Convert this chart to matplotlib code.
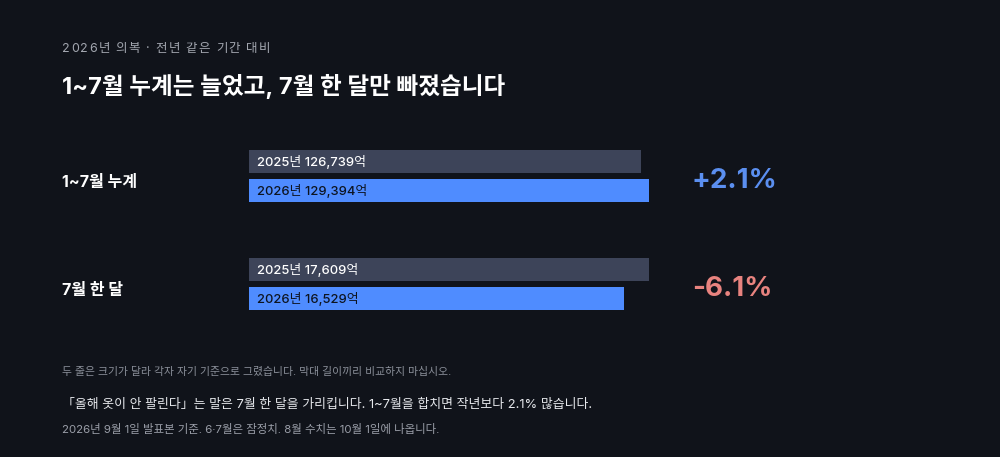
import matplotlib
matplotlib.use("Agg")
import matplotlib.pyplot as plt

plt.rcParams['font.family'] = ['Inter', 'Noto Sans CJK KR', 'DejaVu Sans']

# data
rows = ["1~7월 누계", "7월 한 달"]
years = ["2025년", "2026년"]
values = [[126739, 129394], [17609, 16529]]
changes = ["+2.1%", "-6.1%"]

subtitle = "2026년 의복 · 전년 같은 기간 대비"
title = "1~7월 누계는 늘었고, 7월 한 달만 빠졌습니다"
note1 = "두 줄은 크기가 달라 각자 자기 기준으로 그렸습니다. 막대 길이끼리 비교하지 마십시오."
note2 = "「올해 옷이 안 팔린다」는 말은 7월 한 달을 가리킵니다. 1~7월을 합치면 작년보다 2.1% 많습니다."
note3 = "2026년 9월 1일 발표본 기준. 6·7월은 잠정치. 8월 수치는 10월 1일에 나옵니다."

BG = "#10131a"
GRAY_BAR = "#3d4459"
BLUE_BAR = "#4f8cff"
UP = "#5b8ff0"
DOWN = "#e8837f"

W, H = 1000, 457
fig = plt.figure(figsize=(W / 100, H / 100), dpi=100, facecolor=BG)

def fy(py):
    # pixel from top -> figure fraction
    return 1 - py / H

# subtitle with letter spacing, char by char
renderer = fig.canvas.get_renderer()
x = 62
for ch in subtitle:
    t = fig.text(x / W, fy(49), ch, color="#a3a7b0", fontsize=9, va="center", ha="left")
    w = t.get_window_extent(renderer).width
    if ch == " ":
        w = 3.0
    x += w + 1.4

fig.text(62 / W, fy(86), title, color="white", fontsize=17, fontweight="bold",
         va="center", ha="left")

# bar rows, each on its own scale
row_tops = [150, 258]
bar_h = 23
gap = 6
for i, row in enumerate(rows):
    top = row_tops[i]
    total = 2 * bar_h + gap
    ax = fig.add_axes([249 / W, fy(top + total), 400 / W, total / H])
    ax.set_facecolor(BG)
    ax.set_xlim(0, max(values[i]))
    ax.set_ylim(total, 0)
    ax.axis("off")
    ys = [bar_h / 2, bar_h + gap + bar_h / 2]
    cols = [GRAY_BAR, BLUE_BAR]
    tcols = ["white", "#0d1420"]
    for j in range(2):
        ax.barh(ys[j], values[i][j], height=bar_h, color=cols[j], left=0)
        ax.text(8 / 400 * max(values[i]), ys[j] + 0.5,
                f"{years[j]} {values[i][j]:,}억", color=tcols[j],
                fontsize=9.3, fontweight="medium", va="center", ha="left")
    mid = top + total / 2
    fig.text(62 / W, fy(mid + 6), row, color="white", fontsize=11.5, fontweight="bold",
             va="center", ha="left")
    fig.text(692 / W, fy(mid + 5), changes[i], color=UP if i == 0 else DOWN,
             fontsize=20, fontweight="bold", va="center", ha="left")

fig.text(62 / W, fy(372), note1, color="#8a8f99", fontsize=7.8, va="center", ha="left")
fig.text(62 / W, fy(405), note2, color="#e6e8ec", fontsize=9.3, va="center", ha="left")
fig.text(62 / W, fy(429), note3, color="#9a9ea8", fontsize=8.25, va="center", ha="left")

fig.savefig("out.png", facecolor=BG)
